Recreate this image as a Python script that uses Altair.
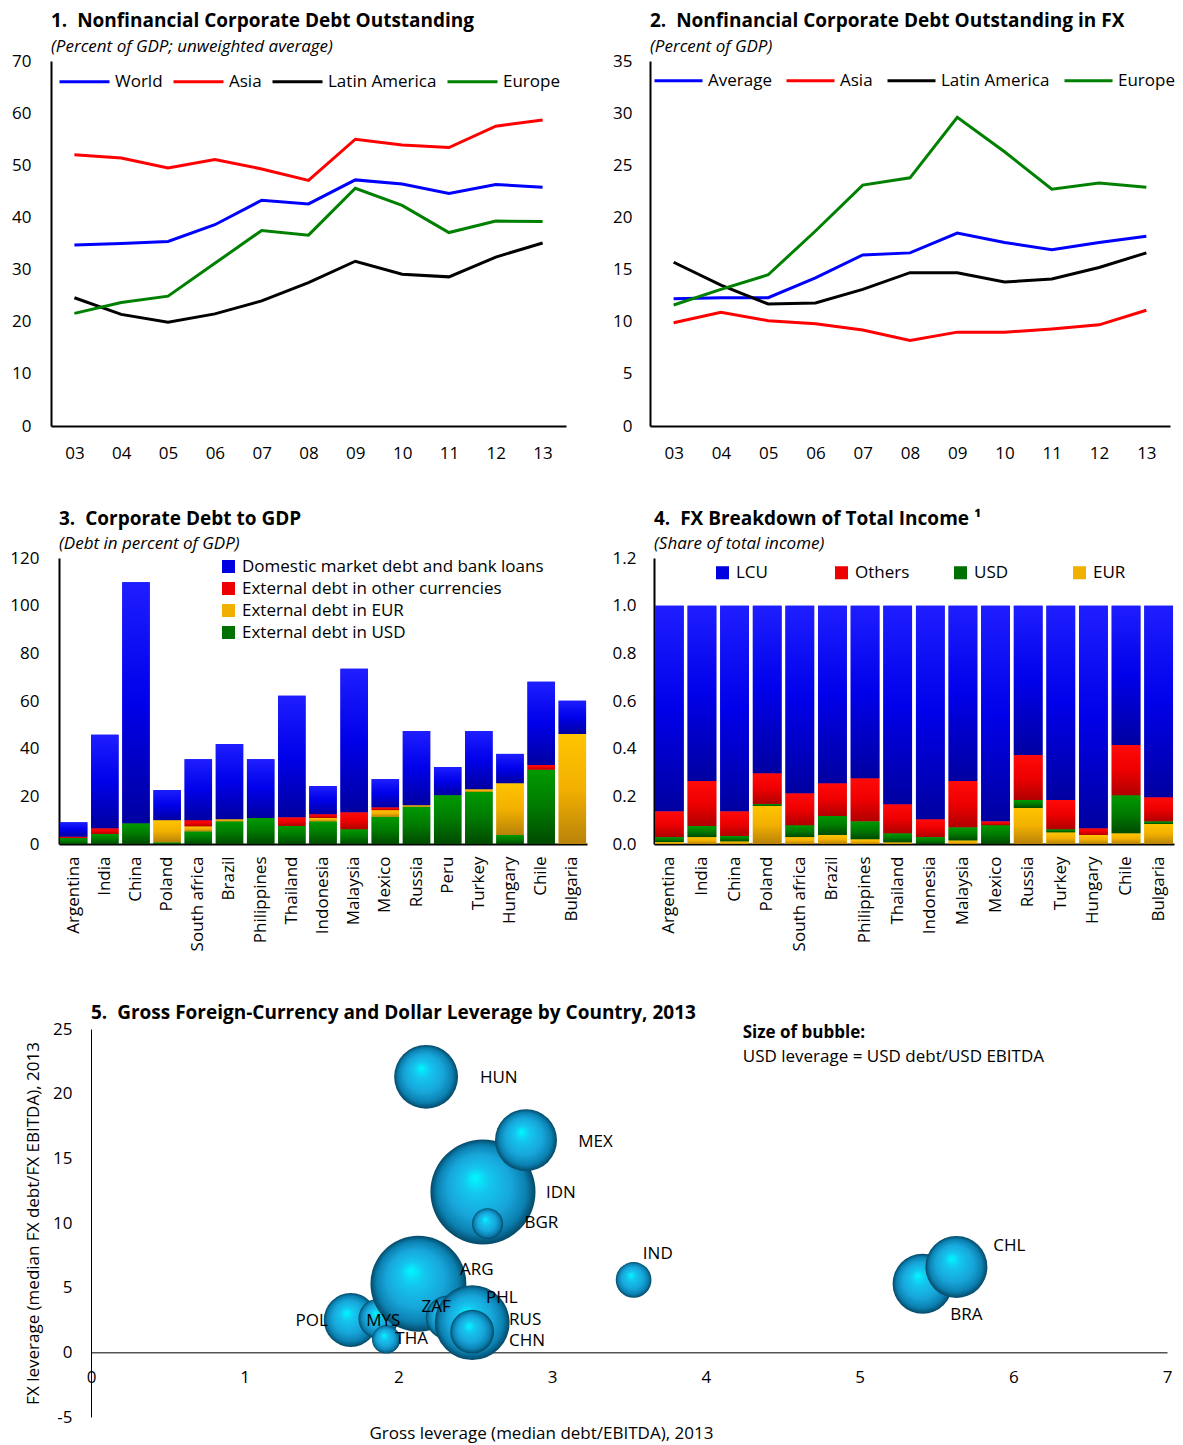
import altair as alt
import pandas as pd

FONT = "Open Sans"

# ---------------- Panel 1 / 2 data ----------------
years = ["03", "04", "05", "06", "07", "08", "09", "10", "11", "12", "13"]

p1_series = ["World", "Asia", "Latin America", "Europe"]
p1_world = [34.7, 35.0, 35.4, 38.6, 43.3, 42.6, 47.2, 46.4, 44.6, 46.3, 45.8]
p1_asia = [52.0, 51.4, 49.5, 51.1, 49.3, 47.1, 55.0, 53.9, 53.4, 57.5, 58.7]
p1_latam = [24.6, 21.4, 19.9, 21.5, 24.0, 27.5, 31.6, 29.1, 28.6, 32.4, 35.1]
p1_europe = [21.6, 23.7, 24.9, 31.2, 37.5, 36.6, 45.6, 42.3, 37.1, 39.3, 39.2]

p2_series = ["Average", "Asia", "Latin America", "Europe"]
p2_average = [12.2, 12.3, 12.3, 14.2, 16.4, 16.6, 18.5, 17.6, 16.9, 17.6, 18.2]
p2_asia = [9.9, 10.9, 10.1, 9.8, 9.2, 8.2, 9.0, 9.0, 9.3, 9.7, 11.1]
p2_latam = [15.7, 13.5, 11.7, 11.8, 13.1, 14.7, 14.7, 13.8, 14.1, 15.2, 16.6]
p2_europe = [11.6, 13.1, 14.5, 18.7, 23.1, 23.8, 29.6, 26.3, 22.7, 23.3, 22.9]

line_colors = ["#0000ff", "#ff0000", "#000000", "#008000"]

# ---------------- Panel 3 data ----------------
p3_countries = ["Argentina", "India", "China", "Poland", "South africa", "Brazil",
                "Philippines", "Thailand", "Indonesia", "Malaysia", "Mexico", "Russia",
                "Peru", "Turkey", "Hungary", "Chile", "Bulgaria"]
p3_usd = [2.5, 4.2, 8.7, 0.7, 5.3, 9.5, 10.9, 7.6, 9.5, 6.2, 11.4, 15.6, 20.5, 21.9, 3.8, 31.2, 0.0]
p3_eur = [0.0, 0.0, 0.0, 9.3, 2.1, 0.9, 0.0, 0.0, 1.4, 0.0, 2.8, 0.7, 0.0, 1.1, 21.7, 0.0, 46.2]
p3_other = [0.6, 2.4, 0.0, 0.0, 2.6, 0.0, 0.0, 3.6, 1.6, 7.1, 1.2, 0.0, 0.0, 0.0, 0.0, 1.9, 0.0]
p3_domestic = [6.0, 39.2, 101.1, 12.6, 25.6, 31.6, 24.7, 51.0, 11.8, 60.2, 11.8, 31.1, 11.8, 24.4, 12.3, 35.0, 13.9]
p3_names = ["Domestic market debt and bank loans", "External debt in other currencies",
            "External debt in EUR", "External debt in USD"]

# ---------------- Panel 4 data ----------------
p4_countries = ["Argentina", "India", "China", "Poland", "South africa", "Brazil",
                "Philippines", "Thailand", "Indonesia", "Malaysia", "Mexico", "Russia",
                "Turkey", "Hungary", "Chile", "Bulgaria"]
p4_eur = [0.008, 0.029, 0.011, 0.160, 0.029, 0.038, 0.020, 0.007, 0.000, 0.015, 0.000, 0.151, 0.049, 0.038, 0.045, 0.084]
p4_usd = [0.021, 0.047, 0.023, 0.008, 0.050, 0.080, 0.075, 0.038, 0.029, 0.055, 0.079, 0.034, 0.013, 0.000, 0.160, 0.011]
p4_others = [0.108, 0.188, 0.103, 0.129, 0.134, 0.137, 0.181, 0.122, 0.075, 0.194, 0.016, 0.188, 0.123, 0.028, 0.210, 0.101]
p4_lcu = [0.863, 0.736, 0.863, 0.703, 0.787, 0.745, 0.724, 0.833, 0.896, 0.736, 0.905, 0.627, 0.815, 0.934, 0.585, 0.804]
p4_names = ["LCU", "Others", "USD", "EUR"]

# ---------------- Panel 5 data ----------------
bub_codes = ["IDN", "POL", "MYS", "THA", "ARG", "HUN", "MEX", "BRA", "CHL", "ZAF", "RUS", "PHL", "CHN", "IND", "BGR"]
bub_gross = [2.55, 1.69, 1.87, 1.92, 2.13, 2.18, 2.83, 5.41, 5.63, 2.32, 2.50, 2.48, 2.48, 3.53, 2.58]
bub_fx = [12.4, 2.5, 2.6, 1.0, 5.3, 21.3, 16.4, 5.3, 6.6, 2.7, 2.0, 2.3, 1.6, 5.6, 9.95]
bub_usd = [27.6, 7.3, 4.0, 2.0, 23.0, 10.2, 9.6, 9.0, 9.6, 4.8, 10.0, 14.0, 4.8, 3.2, 2.4]
lab_x = [2.96, 1.33, 1.79, 1.98, 2.40, 2.53, 3.17, 5.59, 5.87, 2.15, 2.72, 2.57, 2.72, 3.59, 2.82]
lab_y = [12.3, 2.4, 2.4, 1.0, 6.4, 21.2, 16.3, 2.9, 8.2, 3.5, 2.5, 4.2, 0.85, 7.6, 10.0]
note_x = 4.24
note_y = [24.7, 22.8]
note_text = ["Size of bubble:", "USD leverage = USD debt/USD EBITDA"]


def vgrad(top, mid, bottom):
    return {"gradient": "linear", "x1": 0, "y1": 0, "x2": 0, "y2": 1,
            "stops": [{"offset": 0, "color": top}, {"offset": 0.5, "color": mid},
                      {"offset": 1, "color": bottom}]}


GRAD = {
    "blue": vgrad("#1e1eff", "#0000ea", "#0000a0"),
    "red": vgrad("#ff0a0a", "#ee0000", "#b00000"),
    "green": vgrad("#009a00", "#007a00", "#004a00"),
    "eur": vgrad("#ffc400", "#f2b000", "#b8820a"),
}
FLAT = {"blue": "#0000e0", "red": "#ee0000", "green": "#007000", "eur": "#f0b000"}


def mk_title(text, subtitle=None, offset=0, subpad=8):
    kw = dict(anchor="start", frame="group", font=FONT, fontSize=19, fontWeight="bold",
              color="black", offset=offset)
    if subtitle:
        kw.update(subtitle=subtitle, subtitleFont=FONT, subtitleFontSize=17,
                  subtitleFontStyle="italic", subtitleColor="black", subtitlePadding=subpad)
    return alt.Title(text, **kw)


def spacer():
    return alt.Chart(pd.DataFrame({"s": [0]})).mark_rect(opacity=0).encode(
        x=alt.value(0), x2=alt.value(1), y=alt.value(0), y2=alt.value(1)
    ).properties(width=1, height=1)


def line_panel(title, subtitle, series, values, ymax, ystep, w, h, lx, ly, minext, lpad, ssize, cpad):
    rows = []
    for name, vals in zip(series, values):
        for yr, v in zip(years, vals):
            rows.append({"year": yr, "series": name, "value": v})
    df = pd.DataFrame(rows)
    return alt.Chart(df, title=mk_title(title, subtitle, offset=-3, subpad=8)).mark_line(
        strokeWidth=3).encode(
        x=alt.X("year:O", sort=years, scale=alt.Scale(type="point", padding=0.5),
                axis=alt.Axis(title=None, labelAngle=0, labelPadding=19)),
        y=alt.Y("value:Q", scale=alt.Scale(domain=[0, ymax], nice=False),
                axis=alt.Axis(title=None, values=list(range(0, ymax + 1, ystep)),
                              labelPadding=lpad, minExtent=minext)),
        color=alt.Color("series:N", sort=series,
                        scale=alt.Scale(domain=series, range=line_colors),
                        legend=alt.Legend(title=None, orient="none", legendX=lx, legendY=ly,
                                          direction="horizontal", symbolType="stroke",
                                          symbolSize=ssize, symbolStrokeWidth=3,
                                          labelFontSize=17, labelOffset=4, columnPadding=cpad)),
    ).properties(width=w, height=h)


def stack_table(countries, stack):
    rows = []
    for i, c in enumerate(countries):
        base = 0.0
        for name, vals, _ in stack:
            v = vals[i]
            if v > 0:
                rows.append({"country": c, "series": name, "y0": base, "y1": base + v})
            base += v
    return pd.DataFrame(rows)


def bar_panel(title, subtitle, countries, stack, legend_names, legend_keys, ymax, yvals, yfmt,
              w, h, legend, minext, lpad):
    df = stack_table(countries, stack)
    x = alt.X("country:N", sort=countries,
              scale=alt.Scale(domain=countries, paddingInner=0.12, paddingOuter=0.03),
              axis=alt.Axis(title=None, labelAngle=-90, labelPadding=12))
    y = alt.Y("y0:Q", scale=alt.Scale(domain=[0, ymax], nice=False),
              axis=alt.Axis(title=None, values=yvals, format=yfmt, labelPadding=lpad,
                            minExtent=minext))
    base = alt.Chart().mark_bar().encode(
        x=x, y=y, y2="y1:Q",
        color=alt.Color("series:N", scale=alt.Scale(domain=legend_names,
                                                    range=[FLAT[k] for k in legend_keys]),
                        legend=legend))
    layers = [base]
    for name, _, key in stack:
        layers.append(alt.Chart().transform_filter(alt.datum.series == name)
                      .mark_bar(fill=GRAD[key]).encode(x=x, y=y, y2="y1:Q"))
    return alt.layer(*layers, data=df, title=mk_title(title, subtitle, offset=-3, subpad=7)
                     ).properties(width=w, height=h)


NB = "\u00a0"

p1 = line_panel(f"1.{NB} Nonfinancial Corporate Debt Outstanding",
                "(Percent of GDP; unweighted average)", p1_series,
                [p1_world, p1_asia, p1_latam, p1_europe], 70, 10, 515, 365, 7, -6, 42, 20, 2500, 4)
p2 = line_panel(f"2.{NB} Nonfinancial Corporate Debt Outstanding in FX",
                "(Percent of GDP)", p2_series,
                [p2_average, p2_asia, p2_latam, p2_europe], 35, 5, 520, 365, 3, -6, 43, 18, 2304, 8)

p3_stack = [(p3_names[3], p3_usd, "green"), (p3_names[2], p3_eur, "eur"),
            (p3_names[1], p3_other, "red"), (p3_names[0], p3_domestic, "blue")]
p3 = bar_panel(f"3.{NB} Corporate Debt to GDP", "(Debt in percent of GDP)", p3_countries,
               p3_stack, p3_names, ["blue", "red", "eur", "green"], 120,
               list(range(0, 121, 20)), "d", 528, 286,
               alt.Legend(title=None, orient="none", legendX=161, legendY=0, symbolType="square",
                          symbolSize=170, labelFontSize=17, labelOffset=5, rowPadding=4,
                          labelLimit=0),
               45, 20)

p4_stack = [("EUR", p4_eur, "eur"), ("USD", p4_usd, "green"),
            ("Others", p4_others, "red"), ("LCU", p4_lcu, "blue")]
p4 = bar_panel(f"4.{NB} FX Breakdown of Total Income \u00b9", "(Share of total income)",
               p4_countries, p4_stack, p4_names, ["blue", "red", "green", "eur"], 1.2,
               [0.0, 0.2, 0.4, 0.6, 0.8, 1.0, 1.2], ".1f", 520, 286,
               alt.Legend(title=None, orient="none", legendX=60, legendY=6, symbolType="square",
                          symbolSize=170, labelFontSize=17, labelOffset=5, direction="horizontal",
                          columns=4, gridAlign="all", columnPadding=42),
               45, 18)

# ---------------- Panel 5 ----------------
bub = pd.DataFrame({"code": bub_codes, "gross": bub_gross, "fx": bub_fx, "usd": bub_usd,
                    "lx": lab_x, "ly": lab_y, "k": list(range(len(bub_codes)))})
notes = pd.DataFrame({"x": [note_x, note_x], "y": note_y, "t": note_text})

P5W, P5H = 1076, 388
x5 = alt.X("gross:Q", scale=alt.Scale(domain=[0, 7], nice=False),
           axis=alt.Axis(title="Gross leverage (median debt/EBITDA), 2013", values=list(range(0, 8)),
                         format="d", offset=-P5H * 5 / 30, domainWidth=1, labelPadding=17,
                         labelFlush=False, titleX=278, titleY=73, titleAnchor="start",
                         titleAlign="left", titleBaseline="top"))
y5 = alt.Y("fx:Q", scale=alt.Scale(domain=[-5, 25], nice=False),
           axis=alt.Axis(title="FX leverage (median FX debt/FX EBITDA), 2013",
                         values=list(range(-5, 26, 5)), labelExpr="'' + datum.value",
                         domainWidth=1, labelPadding=19, titlePadding=10))

bubble_fill = {"gradient": "radial", "x1": 0.42, "y1": 0.36, "r1": 0.0,
               "x2": 0.5, "y2": 0.5, "r2": 0.5,
               "stops": [{"offset": 0.0, "color": "#00f8ff"},
                         {"offset": 0.25, "color": "#14c6ee"},
                         {"offset": 0.6, "color": "#18a6da"},
                         {"offset": 0.85, "color": "#0b80b0"},
                         {"offset": 1.0, "color": "#044866"}]}

bubbles = alt.Chart(bub).mark_circle(fill=bubble_fill, opacity=1, strokeWidth=0).encode(
    x=x5, y=y5,
    size=alt.Size("usd:Q", scale=alt.Scale(domain=[0, 30], range=[0, 30 * 400]), legend=None),
    order=alt.Order("k:Q"),
)
labels = alt.Chart(bub).mark_text(align="left", baseline="middle", font=FONT, fontSize=17,
                                  color="black").encode(
    x=alt.X("lx:Q"), y=alt.Y("ly:Q"), text="code:N")
note_bold = alt.Chart(notes).transform_filter(alt.datum.t == note_text[0]).mark_text(
    align="left", baseline="middle", font=FONT, fontSize=17, fontWeight="bold",
    color="black").encode(x=alt.X("x:Q"), y=alt.Y("y:Q"), text="t:N")
note_plain = alt.Chart(notes).transform_filter(alt.datum.t == note_text[1]).mark_text(
    align="left", baseline="middle", font=FONT, fontSize=17,
    color="black").encode(x=alt.X("x:Q"), y=alt.Y("y:Q"), text="t:N")

p5 = alt.layer(bubbles, labels, note_bold, note_plain,
               title=mk_title(f"5.{NB} Gross Foreign-Currency and Dollar Leverage by Country, 2013",
                              offset=-3)
               ).properties(width=P5W, height=P5H)

RES = dict(color="independent", x="independent", y="independent")

top = alt.hconcat(spacer(), alt.hconcat(p1, p2, spacing=41).resolve_scale(**RES),
                  spacing=0).resolve_scale(**RES)
mid = alt.hconcat(spacer(), alt.hconcat(p3, p4, spacing=22).resolve_scale(**RES),
                  spacing=0).resolve_scale(**RES)
bot = alt.hconcat(spacer(), p5, spacing=15).resolve_scale(**RES, size="independent")

upper = alt.vconcat(top, mid, spacing=49).resolve_scale(**RES)
chart = alt.vconcat(upper, bot, spacing=53).resolve_scale(
    color="independent", x="independent", y="independent", size="independent"
).properties(
    padding={"left": 0, "top": 4, "right": 0, "bottom": 6}
).configure_view(stroke=None).configure_axis(
    labelFont=FONT, labelFontSize=17, labelColor="black", domainColor="black", domainWidth=2,
    ticks=False, grid=False, titleFont=FONT, titleFontSize=17, titleFontWeight="normal",
    titleColor="black"
).configure_legend(labelFont=FONT, labelFontSize=17, labelColor="black")

chart.save("out.html", embed_options={"renderer": "svg", "actions": False})
